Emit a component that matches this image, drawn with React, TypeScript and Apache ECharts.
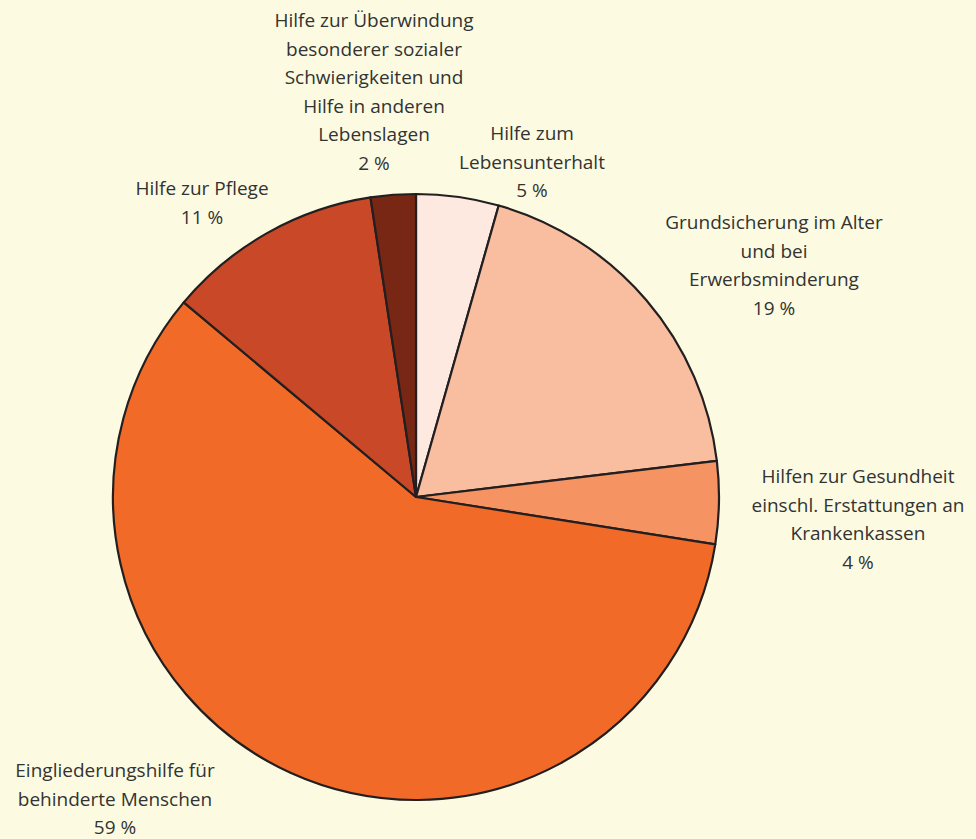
import React, { useEffect, useRef } from "react";
import * as echarts from "echarts";

// Slices clockwise from 12 o'clock
const categories = [
  "Hilfe zum\nLebensunterhalt",
  "Grundsicherung im Alter\nund bei\nErwerbsminderung",
  "Hilfen zur Gesundheit\neinschl. Erstattungen an\nKrankenkassen",
  "Eingliederungshilfe für\nbehinderte Menschen",
  "Hilfe zur Pflege",
  "Hilfe zur Überwindung\nbesonderer sozialer\nSchwierigkeiten und\nHilfe in anderen\nLebenslagen",
];
// shares as measured from slice angles (percent)
const values = [4.4, 18.7, 4.4, 58.6, 11.5, 2.4];
// percent labels printed in the chart
const shownPercent = ["5 %", "19 %", "4 %", "59 %", "11 %", "2 %"];

const colors = ["#FDE9E0", "#F9BDA0", "#F59363", "#F26A27", "#C84827", "#772713"];
// label block anchors: [center x, top y]
const labelAnchors: [number, number][] = [
  [532, 119],
  [774, 208],
  [858, 462],
  [115, 756],
  [202, 174],
  [374, 6],
];

export default function App() {
  const ref = useRef<HTMLDivElement>(null);
  useEffect(() => {
    document.body.style.margin = "0";
    const chart = echarts.init(ref.current!, null, { renderer: "svg" });
    chart.setOption({
      animation: false,
      backgroundColor: "#FCFBE2",
      series: [
        {
          type: "pie",
          center: [416, 497],
          radius: [0, 303],
          startAngle: 90,
          clockwise: true,
          avoidLabelOverlap: false,
          data: categories.map((name, i) => ({
            name,
            value: values[i],
            itemStyle: { color: colors[i] },
          })),
          itemStyle: { borderColor: "#231F20", borderWidth: 2.2 },
          label: {
            show: true,
            position: "outside",
            formatter: (p: any) => `${p.name}\n${shownPercent[p.dataIndex]}`,
            fontFamily: "Open Sans",
            fontSize: 19,
            lineHeight: 28.5,
            color: "#333332",
            align: "center",
          },
          labelLine: { show: false },
          labelLayout: (params: any) => {
            const a = labelAnchors[params.dataIndex];
            return { x: a[0], y: a[1], align: "center", verticalAlign: "top" };
          },
          emphasis: { disabled: true },
        },
      ],
    });
    return () => chart.dispose();
  }, []);
  return <div ref={ref} style={{ width: 976, height: 839 }} />;
}
